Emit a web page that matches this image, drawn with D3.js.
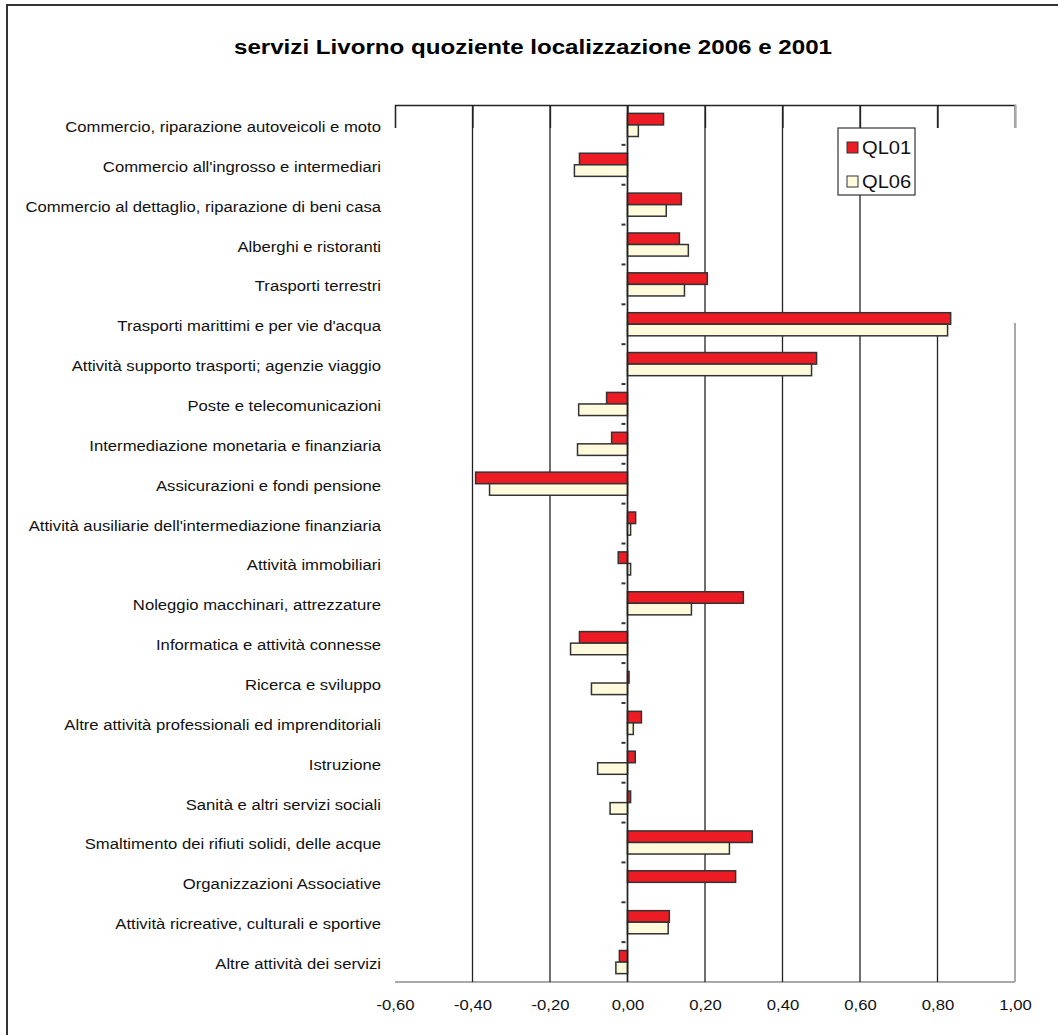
<!DOCTYPE html>
<html>
<head>
<meta charset="utf-8">
<script src="https://cdn.jsdelivr.net/npm/d3@7"></script>
<style>
  html, body { margin: 0; padding: 0; background: #fff; }
  svg { display: block; font-family: "Liberation Sans", Arial, sans-serif; }
</style>
</head>
<body>
<svg id="chart" width="1058" height="1035"></svg>
<script>
// Service sectors, top to bottom
const categories = [
  "Commercio, riparazione autoveicoli e moto",
  "Commercio all'ingrosso e intermediari",
  "Commercio al dettaglio, riparazione di beni casa",
  "Alberghi e ristoranti",
  "Trasporti terrestri",
  "Trasporti marittimi e per vie d'acqua",
  "Attività supporto trasporti; agenzie viaggio",
  "Poste e telecomunicazioni",
  "Intermediazione monetaria e finanziaria ",
  "Assicurazioni e fondi pensione",
  "Attività ausiliarie dell'intermediazione finanziaria",
  "Attività immobiliari",
  "Noleggio macchinari, attrezzature",
  "Informatica e attività connesse",
  "Ricerca e sviluppo",
  "Altre attività professionali ed imprenditoriali",
  "Istruzione",
  "Sanità e altri servizi sociali",
  "Smaltimento dei rifiuti solidi, delle acque",
  "Organizzazioni Associative",
  "Attività ricreative, culturali e sportive",
  "Altre attività dei servizi"
];

// Location quotient (log) 2001
const ql01 = [0.093, -0.124, 0.139, 0.134, 0.206, 0.834, 0.488, -0.054, -0.041, -0.392,
              0.021, -0.024, 0.299, -0.124, 0.004, 0.036, 0.020, 0.008, 0.322, 0.279,
              0.108, -0.021];
// Location quotient (log) 2006
const ql06 = [0.028, -0.137, 0.100, 0.157, 0.147, 0.826, 0.475, -0.126, -0.129, -0.356,
              0.008, 0.008, 0.165, -0.147, -0.093, 0.015, -0.077, -0.045, 0.263, 0.000,
              0.105, -0.030];

const seriesNames = ["QL01", "QL06"];
const seriesColors = ["#ED1C24", "#FFFADC"];
const tickValues = [-0.6, -0.4, -0.2, 0, 0.2, 0.4, 0.6, 0.8, 1.0];
// Italian decimal comma, plain hyphen for negatives
const fmt = v => d3.format(".2f")(v).replace(".", ",").replace("\u2212", "-");

// text in this chart is set slightly wide
const STRETCH = 1.15;

const svg = d3.select("#chart");

// outer frame
svg.append("rect")
  .attr("x", 7).attr("y", 5).attr("width", 1070).attr("height", 1060)
  .attr("fill", "none").attr("stroke", "#333").attr("stroke-width", 2);

svg.append("text")
  .attr("transform", `translate(533,54) scale(${STRETCH},1)`)
  .attr("text-anchor", "middle")
  .attr("font-size", 21).attr("font-weight", "bold")
  .text("servizi Livorno quoziente localizzazione 2006 e 2001");

const plot = { left: 395, right: 1015, top: 105, bottom: 982 };

const x = d3.scaleLinear().domain([-0.6, 1.0]).range([plot.left, plot.right]);
const y = d3.scaleBand().domain(categories).range([plot.top, plot.bottom]).paddingInner(0).paddingOuter(0);
const barH = y.bandwidth() * 0.29;

// plot area border (bottom and right)
svg.append("line")
  .attr("x1", plot.left).attr("x2", plot.right)
  .attr("y1", plot.bottom).attr("y2", plot.bottom)
  .attr("stroke", "#aaa").attr("stroke-width", 2);
svg.append("line")
  .attr("x1", plot.right).attr("x2", plot.right)
  .attr("y1", plot.top).attr("y2", plot.bottom)
  .attr("stroke", "#aaa").attr("stroke-width", 2);

// vertical gridlines
svg.append("g")
  .selectAll("line")
  .data(tickValues.filter(v => v > -0.6 && v < 1.0))
  .join("line")
  .attr("x1", d => x(d)).attr("x2", d => x(d))
  .attr("y1", plot.top).attr("y2", plot.bottom)
  .attr("stroke", "#222").attr("stroke-width", 1.3);

// blank area beside the legend
svg.append("rect")
  .attr("x", 916).attr("y", 128).attr("width", 110).attr("height", 195)
  .attr("fill", "#fff");

// top axis with downward ticks
const topAxis = d3.axisBottom(x).tickValues(tickValues).tickSize(23).tickFormat("");
const gTop = svg.append("g").attr("transform", `translate(0,${plot.top})`).call(topAxis);
gTop.select(".domain").attr("stroke", "#222").attr("stroke-width", 1.3);
gTop.selectAll(".tick line").attr("stroke", "#222").attr("stroke-width", 1.3);
gTop.selectAll(".tick").filter(d => d === 1.0).select("line").attr("stroke", "#aaa").attr("stroke-width", 2);

// bottom tick labels
const bottomAxis = d3.axisBottom(x).tickValues(tickValues).tickSize(0).tickPadding(0).tickFormat(fmt);
const gBot = svg.append("g").attr("transform", `translate(0,${plot.bottom + 18})`).call(bottomAxis);
gBot.select(".domain").remove();
gBot.selectAll("text")
  .attr("font-size", 14.5).attr("fill", "#111")
  .attr("font-family", "'Liberation Sans', Arial, sans-serif")
  .attr("transform", `scale(${STRETCH},1)`);

// category axis on zero with minor ticks at band edges
const zero = x(0);
svg.append("g")
  .selectAll("line")
  .data(categories.slice(1))
  .join("line")
  .attr("x1", zero - 6).attr("x2", zero - 2)
  .attr("y1", d => y(d)).attr("y2", d => y(d))
  .attr("stroke", "#333").attr("stroke-width", 2);

// category labels
svg.append("g")
  .selectAll("text")
  .data(categories)
  .join("text")
  .attr("transform", d => `translate(381,${y(d) + y.bandwidth() / 2 + 7}) scale(${STRETCH},1)`)
  .attr("text-anchor", "end")
  .attr("font-size", 14.5)
  .attr("fill", "#111")
  .text(d => d);

// bars
const series = [ql01, ql06];
series.forEach((vals, si) => {
  svg.append("g")
    .selectAll("rect")
    .data(vals)
    .join("rect")
    .attr("x", d => x(Math.min(0, d)))
    .attr("width", d => Math.abs(x(d) - zero))
    .attr("y", (d, i) => y(categories[i]) + y.bandwidth() / 2 - barH + si * barH)
    .attr("height", barH)
    .attr("fill", seriesColors[si])
    .attr("stroke", "#333")
    .attr("stroke-width", 1.5);
});

// zero line
svg.append("line")
  .attr("x1", zero).attr("x2", zero)
  .attr("y1", plot.top).attr("y2", plot.bottom)
  .attr("stroke", "#222").attr("stroke-width", 1.5);

// legend
const lg = svg.append("g").attr("transform", "translate(838,128)");
lg.append("rect")
  .attr("width", 77).attr("height", 67)
  .attr("fill", "#fff").attr("stroke", "#333").attr("stroke-width", 1.2);
seriesNames.forEach((name, i) => {
  lg.append("rect")
    .attr("x", 9).attr("y", 14 + i * 34)
    .attr("width", 11).attr("height", 11)
    .attr("fill", seriesColors[i]).attr("stroke", "#333").attr("stroke-width", 1);
  lg.append("text")
    .attr("transform", `translate(24,${26 + i * 34}) scale(${STRETCH},1)`)
    .attr("font-size", 17.5).attr("fill", "#111")
    .text(name);
});
</script>
</body>
</html>
